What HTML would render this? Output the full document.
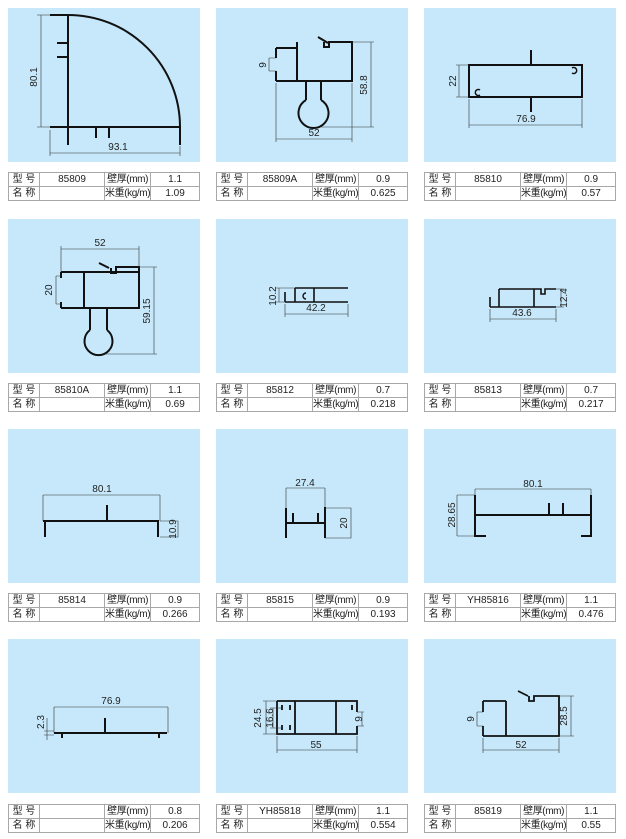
<!DOCTYPE html>
<html><head><meta charset="utf-8">
<style>
body{margin:0;width:626px;height:839px;background:#fff;position:relative;overflow:hidden;font-family:"Liberation Sans","Noto Sans CJK SC",sans-serif;}
.p{position:absolute;width:192px;height:154px;background:#c6e8fa;}
table{position:absolute;width:192px;border-collapse:collapse;font-size:10px;color:#222;}
td{border:1px solid #a8a8a8;height:13px;padding:0;text-align:center;line-height:13px;white-space:nowrap;}
td.a{width:30px;}td.b{width:64px;}td.c{width:43px;letter-spacing:-0.4px;}
svg{position:absolute;left:0;top:0;}
</style></head><body>
<div class="p" style="left:8px;top:8px"></div><div class="p" style="left:216px;top:8px"></div><div class="p" style="left:424px;top:8px"></div>
<div class="p" style="left:8px;top:219px"></div><div class="p" style="left:216px;top:219px"></div><div class="p" style="left:424px;top:219px"></div>
<div class="p" style="left:8px;top:429px"></div><div class="p" style="left:216px;top:429px"></div><div class="p" style="left:424px;top:429px"></div>
<div class="p" style="left:8px;top:639px"></div><div class="p" style="left:216px;top:639px"></div><div class="p" style="left:424px;top:639px"></div>

<table style="left:8px;top:172px"><tr><td class="a">型 号</td><td class="b">85809</td><td class="c">壁厚(mm)</td><td>1.1</td></tr><tr><td class="a">名 称</td><td class="b"></td><td class="c">米重(kg/m)</td><td>1.09</td></tr></table>
<table style="left:216px;top:172px"><tr><td class="a">型 号</td><td class="b">85809A</td><td class="c">壁厚(mm)</td><td>0.9</td></tr><tr><td class="a">名 称</td><td class="b"></td><td class="c">米重(kg/m)</td><td>0.625</td></tr></table>
<table style="left:424px;top:172px"><tr><td class="a">型 号</td><td class="b">85810</td><td class="c">壁厚(mm)</td><td>0.9</td></tr><tr><td class="a">名 称</td><td class="b"></td><td class="c">米重(kg/m)</td><td>0.57</td></tr></table>
<table style="left:8px;top:383px"><tr><td class="a">型 号</td><td class="b">85810A</td><td class="c">壁厚(mm)</td><td>1.1</td></tr><tr><td class="a">名 称</td><td class="b"></td><td class="c">米重(kg/m)</td><td>0.69</td></tr></table>
<table style="left:216px;top:383px"><tr><td class="a">型 号</td><td class="b">85812</td><td class="c">壁厚(mm)</td><td>0.7</td></tr><tr><td class="a">名 称</td><td class="b"></td><td class="c">米重(kg/m)</td><td>0.218</td></tr></table>
<table style="left:424px;top:383px"><tr><td class="a">型 号</td><td class="b">85813</td><td class="c">壁厚(mm)</td><td>0.7</td></tr><tr><td class="a">名 称</td><td class="b"></td><td class="c">米重(kg/m)</td><td>0.217</td></tr></table>
<table style="left:8px;top:593px"><tr><td class="a">型 号</td><td class="b">85814</td><td class="c">壁厚(mm)</td><td>0.9</td></tr><tr><td class="a">名 称</td><td class="b"></td><td class="c">米重(kg/m)</td><td>0.266</td></tr></table>
<table style="left:216px;top:593px"><tr><td class="a">型 号</td><td class="b">85815</td><td class="c">壁厚(mm)</td><td>0.9</td></tr><tr><td class="a">名 称</td><td class="b"></td><td class="c">米重(kg/m)</td><td>0.193</td></tr></table>
<table style="left:424px;top:593px"><tr><td class="a">型 号</td><td class="b">YH85816</td><td class="c">壁厚(mm)</td><td>1.1</td></tr><tr><td class="a">名 称</td><td class="b"></td><td class="c">米重(kg/m)</td><td>0.476</td></tr></table>
<table style="left:8px;top:804px"><tr><td class="a">型 号</td><td class="b"></td><td class="c">壁厚(mm)</td><td>0.8</td></tr><tr><td class="a">名 称</td><td class="b"></td><td class="c">米重(kg/m)</td><td>0.206</td></tr></table>
<table style="left:216px;top:804px"><tr><td class="a">型 号</td><td class="b">YH85818</td><td class="c">壁厚(mm)</td><td>1.1</td></tr><tr><td class="a">名 称</td><td class="b"></td><td class="c">米重(kg/m)</td><td>0.554</td></tr></table>
<table style="left:424px;top:804px"><tr><td class="a">型 号</td><td class="b">85819</td><td class="c">壁厚(mm)</td><td>1.1</td></tr><tr><td class="a">名 称</td><td class="b"></td><td class="c">米重(kg/m)</td><td>0.55</td></tr></table>

<svg width="626" height="839" viewBox="0 0 626 839">
<g fill="none" stroke="#111" stroke-width="2">
<path d="M50 15H68A112 112 0 0 1 180 127"/><path d="M68 15V145M50 127H180V145M57 43H68M57 57H68M96 127V138M109 127V138"/>
<path d="M276 48H297M297 42V81M276 81H352V42H329V47H324V42M318 37L328 43M276 48V58M276 71V81M306 81V100M321 81V100"/>
<path d="M306 100A15 15 0 1 0 321 100"/>
<rect x="469" y="65" width="113" height="32"/><path d="M531 50V65M531 97V112"/>
<path d="M572 68A3 3 0 1 1 572 73M480 90A3 3 0 1 0 480 95" stroke-width="1.5"/>
<path d="M61 272H139V267H116V273H111V268M99 263L109 268M61 272V278M61 302V308M61 308H139V267M84 272V308M90 308V330M107 308V330"/>
<path d="M90 330A14 14 0 1 0 107 330"/>
<path d="M295 288H348M285 302H348M295 288V302M285 292V302M314 288V302" stroke-width="1.6"/>
<path d="M306 293A3 3 0 1 0 306 299" stroke-width="1.4"/>
<path d="M499 289H534V307M499 289V307M490 307H556M490 297V307M534 289H541V294H545V289H556" stroke-width="1.6"/>
<path d="M43 521H159M45 521V537M158 521V537M107 505V521"/>
<path d="M286 508V538M286 523H325M293 513V523M325 507V538M318 513V523"/>
<path d="M475 495V536H486M475 515H591M591 495V536H581M549 503V515M563 503V515"/>
<path d="M54 733H167M105 718V733M62 733V738M159 733V738"/>
<path d="M277 701H357V712M357 726V734H277V701M295 701V734M336 701V734M282 705V710M290 705V710M282 725V730M290 725V730M352 705V710" stroke-width="1.8"/>
<path d="M483 701H506M506 701V736M483 736H559V696H534V701H529V696M518 691L528 696M483 701V712M483 726V736" stroke-width="1.8"/>
</g>
<g fill="none" stroke="#333" stroke-width="0.6">
<path d="M41 15V127M37 15H50M37 127H50M50 153H180M50 130V156M180 146V156"/>
<path d="M371 42V127M352 42H374M321 127H374M276 139H352M276 83V142M352 83V142M269 58V71M269 58H276M269 71H276"/>
<path d="M459 65V97M456 65H469M456 97H469M469 125H582M469 99V128M582 99V128"/>
<path d="M61 249H139M61 246V272M139 246V267M56 276V304M56 276H61M56 304H61M154 267V354M139 267H157M105 354H157"/>
<path d="M279 288V302M276 288H295M276 302H285M285 314H348M285 304V317M348 304V317"/>
<path d="M561 289V307M556 289H564M556 307H564M490 319H556M490 309V322M556 309V322"/>
<path d="M43 495H160M43 495V521M160 495V521M160 521H178V537H160"/>
<path d="M286 488H325M286 488V508M325 488V507M325 508H351V538H325"/>
<path d="M475 489H591M475 489V495M591 489V495M457 495H475M457 536H475M457 495V536"/>
<path d="M54 707H168M54 707V733M168 707V733M47 718V740M44 731H54M44 735H54"/>
<path d="M277 750H357M277 736V753M357 736V753M266 701V734M263 701H277M263 734H277M273 708V728M270 708H282M270 728H282M362 712V726M357 712H364M357 726H364"/>
<path d="M571 696V736M559 696H574M559 736H574M483 750H559M483 738V753M559 738V753M477 712V726M477 712H483M477 726H483"/>
</g>
<g font-family="Liberation Sans, sans-serif" font-size="10" fill="#222" text-anchor="middle">
<text x="118" y="150">93.1</text><text transform="translate(37,77) rotate(-90)">80.1</text>
<text x="314" y="136">52</text><text transform="translate(367,85) rotate(-90)">58.8</text><text transform="translate(266,65) rotate(-90)">9</text>
<text x="526" y="122">76.9</text><text transform="translate(456,81) rotate(-90)">22</text>
<text x="100" y="246">52</text><text transform="translate(52,290) rotate(-90)">20</text><text transform="translate(150,311) rotate(-90)">59.15</text>
<text transform="translate(276,296) rotate(-90)">10.2</text><text x="316" y="311">42.2</text>
<text x="522" y="316">43.6</text><text transform="translate(567,298) rotate(-90)">12.4</text>
<text x="102" y="492">80.1</text><text transform="translate(176,529) rotate(-90)">10.9</text>
<text x="305" y="486">27.4</text><text transform="translate(347,523) rotate(-90)">20</text>
<text x="533" y="487">80.1</text><text transform="translate(455,515) rotate(-90)">28.65</text>
<text x="111" y="704">76.9</text><text transform="translate(44,722) rotate(-90)">2.3</text>
<text x="316" y="748">55</text><text transform="translate(261,718) rotate(-90)">24.5</text><text transform="translate(273,718) rotate(-90)">16.6</text><text transform="translate(362,719) rotate(-90)">9</text>
<text x="521" y="748">52</text><text transform="translate(567,716) rotate(-90)">28.5</text><text transform="translate(474,719) rotate(-90)">9</text>
</g>
</svg>
</body></html>
